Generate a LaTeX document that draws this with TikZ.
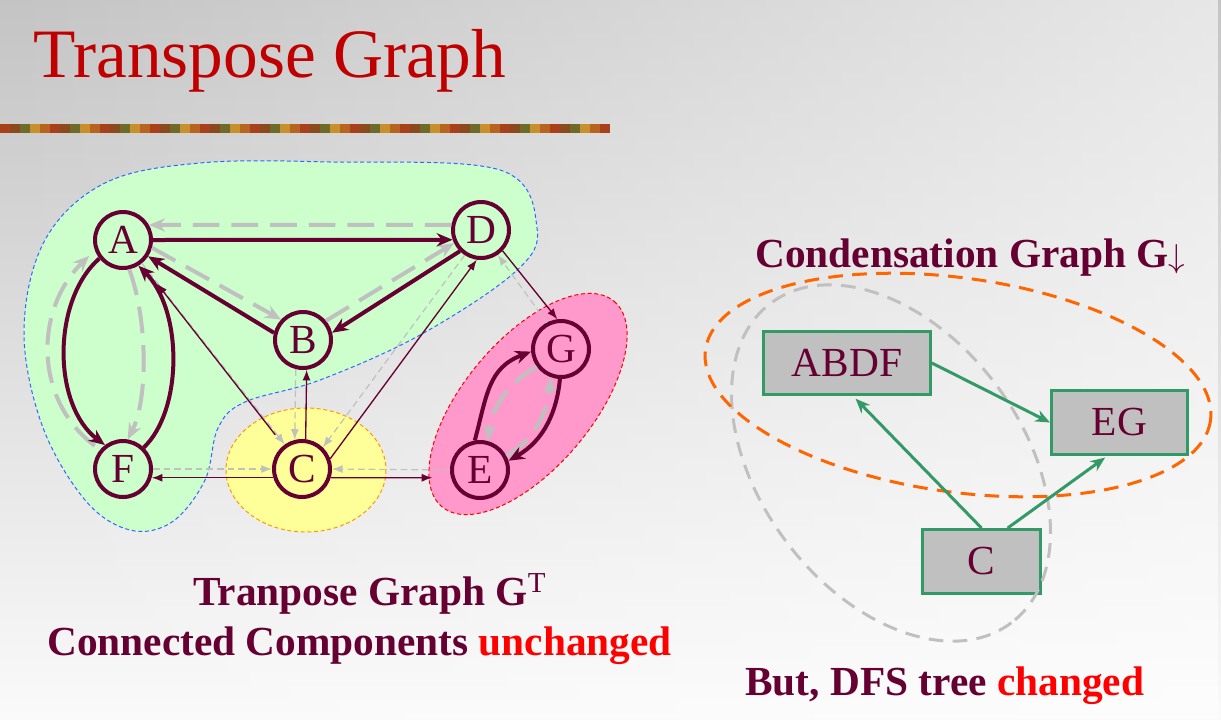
\documentclass[tikz,border=0pt]{standalone}
\usepackage{fontspec}
\setmainfont{Liberation Serif}
\usetikzlibrary{arrows.meta,fadings}
\definecolor{mymaroon}{HTML}{660033}
\definecolor{titlered}{HTML}{C00000}
\definecolor{lgray}{HTML}{C0C0C0}
\definecolor{blobgreen}{HTML}{CCFFCC}
\definecolor{blobblue}{HTML}{3366FF}
\definecolor{yelfill}{HTML}{FFFF99}
\definecolor{yelborder}{HTML}{FF9900}
\definecolor{pinkfill}{HTML}{FF99CC}
\definecolor{pinkborder}{HTML}{FF0000}
\definecolor{mygreen}{HTML}{339966}
\definecolor{boxgray}{HTML}{C0C0C0}
\definecolor{orangeline}{HTML}{FF6600}
\definecolor{bgtop}{HTML}{C4C4C4}
\definecolor{bgbot}{HTML}{FAFAFA}
\definecolor{bar0}{HTML}{8B4A1C}
\definecolor{bar1}{HTML}{B8641E}
\definecolor{bar2}{HTML}{6E6A2A}
\definecolor{bar3}{HTML}{A8401C}
\definecolor{bar4}{HTML}{C8902A}
\tikzfading[name=fadetoright, left color=transparent!100, right color=transparent!0]
\begin{document}
\begin{tikzpicture}[x=0.75pt,y=-0.75pt,
  vtx/.style={circle, draw=mymaroon, line width=3pt, minimum size=42pt, inner sep=0pt,
    text=mymaroon, font=\fontsize{31}{31}\selectfont},
  tedge/.style={draw=mymaroon, line width=3pt, -{Stealth[length=12pt,width=10pt]}},
  gedge/.style={draw=lgray, line width=3pt, dash pattern=on 20pt off 9pt, -{Stealth[length=12pt,width=10pt]}},
  tthin/.style={draw=mymaroon, line width=1pt, -{Latex[length=8pt,width=6pt]}},
  gthin/.style={draw=lgray, line width=0.9pt, dash pattern=on 5pt off 3pt, -{Latex[length=8pt,width=6pt]}},
  cbox/.style={draw=mygreen, line width=2.25pt, fill=boxgray, text=mymaroon, inner sep=0pt,
    font=\fontsize{31}{31}\selectfont},
  garrow/.style={draw=mygreen, line width=2.25pt, -{Stealth[length=11pt,width=9pt]}},
  boldtxt/.style={text=mymaroon, font=\fontsize{31}{31}\selectfont\bfseries, inner sep=0pt}
]
\useasboundingbox (0,0) rectangle (1221,719);
% background
\shade[top color=bgtop, bottom color=bgbot] (0,0) rectangle (1221,719);
\fill[white, path fading=fadetoright, fill opacity=0.6] (0,0) rectangle (1221,719);
% decorative bar
\foreach \i in {0,...,60} {
  \pgfmathtruncatemacro\m{mod(\i*7+3,5)}
  \fill[bar\m] (\i*10,124) rectangle ++(10,9);
}
% title
\node[anchor=base west, text=titlered, font=\fontsize{52}{60}\selectfont, inner sep=0pt] (title) at (33,77) {Transpose Graph};

% blobs
\draw[fill=blobgreen, draw=blobblue, line width=0.75pt, dash pattern=on 3pt off 2pt]
  plot[smooth cycle, tension=0.6] coordinates {(537,228) (515,272) (420,335) (320,380) (245,402) (218,428) (205,480) (172,522) (130,530) (85,500) (42,425) (24,330) (45,240) (105,183) (200,163) (330,162) (500,170)};
\draw[fill=yelfill, draw=yelborder, line width=0.75pt, dash pattern=on 3pt off 2pt] (306,470) ellipse [x radius=80, y radius=62];
\draw[fill=pinkfill, draw=pinkborder, line width=0.75pt, dash pattern=on 3pt off 2pt, rotate around={50:(528,404)}] (528,404) ellipse [x radius=134, y radius=64];

% vertices
\node[vtx] (A) at (123,240) {A};
\node[vtx] (B) at (303,340) {B};
\node[vtx] (C) at (302,469) {C};
\node[vtx] (D) at (481,230) {D};
\node[vtx] (E) at (480,470) {E};
\node[vtx] (F) at (123,469) {F};
\node[vtx] (G) at (561,349) {G};

% original edges (gray dashed)
\draw[gedge] (D.170) -- (A.30);
\draw[gedge] (A.-15) -- (B.137);
\draw[gedge] (B.40) -- (D.206);
\draw[gedge, shorten <=5pt, shorten >=6pt] (F.140) .. controls (34,400) and (34,310) .. (A.200);
\draw[gedge] (A.282) .. controls (148,320) and (148,400) .. (F.81);
\draw[gedge] (G.216) .. controls (505,385) and (492,410) .. (E.75);
\draw[gedge] (E.28) .. controls (535,440) and (548,410) .. (G.250);
\draw[gthin] (A.309) -- (C.125);
\draw[gthin] (B.256) -- (C.104);
\draw[gthin] (D.237) -- (C.46);
\draw[gthin] (F.east) -- (C.west);
\draw[gthin] (E.west) -- (C.east);
\draw[gthin] (G.118) -- (D.304);

% transpose edges (maroon)
\draw[tedge] (A.east) -- (D.199);
\draw[tedge] (D.225) -- (B.14);
\draw[tedge] (B.166) -- (A.-33);
\draw[tedge] (A.218) .. controls (52,300) and (52,405) .. (F.127);
\draw[tedge] (F.46) .. controls (183,410) and (183,310) .. (A.-59);
\draw[tedge] (E.100) .. controls (487,395) and (488,368) .. (G.185);
\draw[tedge] (G.268) .. controls (557,410) and (545,440) .. (E.18);
\draw[tthin, shorten <=10pt, shorten >=19pt] (C) -- (A);
\draw[tthin] (C.83) -- (B.277);
\draw[tthin] (C.20) -- (D.262);
\draw[tthin] (C.197) -- (F.-17);
\draw[tthin, shorten >=14pt] (C.-17) -- (E.195);
\draw[tthin] (D.316) -- (G.97);

% captions left
\node[boldtxt, anchor=base west] (cap1) at (193,605) {Tranpose Graph G\textsuperscript{\mdseries T}};
\node[boldtxt, anchor=base west] (cap2) at (47,655) {Connected Components \textcolor{red}{unchanged}};

% right: condensation graph
\node[boldtxt, anchor=base west] (cap3) at (755,267) {Condensation Graph G$\downarrow$};
\node[cbox, minimum width=125pt, minimum height=47pt] (ABDF) at (847,363) {ABDF};
\node[cbox, minimum width=102pt, minimum height=48pt] (EG) at (1119.5,422.5) {EG};
\node[cbox, minimum width=88.5pt, minimum height=48pt] (CC) at (981.5,561.5) {C};
\draw[draw=lgray, line width=2.25pt, dash pattern=on 11pt off 7pt, rotate around={-53:(891,463)}] (891,463) ellipse [x radius=200, y radius=131];
\draw[draw=orangeline, line width=2.25pt, dash pattern=on 11pt off 7pt, rotate around={-8:(958,385)}] (958,385) ellipse [x radius=255, y radius=107];
\draw[garrow] (ABDF.east) -- (EG.west);
\draw[garrow, shorten >=3pt] (CC.north) -- (ABDF.-80);
\draw[garrow, shorten >=2pt] (CC.52) -- (EG.250);
\node[boldtxt, anchor=base west] (cap4) at (745,695) {But, DFS tree \textcolor{red}{changed}};
\end{tikzpicture}
\end{document}
